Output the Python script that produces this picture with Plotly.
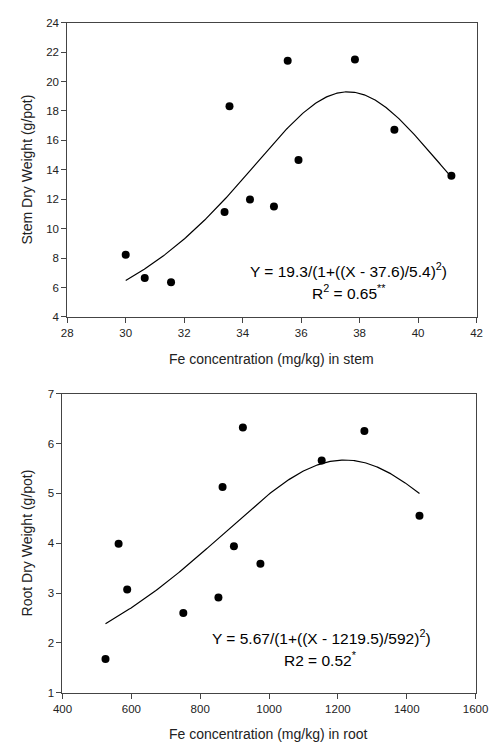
import numpy as np
import plotly.graph_objects as go

# ---- Data: stem panel ----
stem_fe = [30.0, 30.65, 31.55, 33.38, 33.55, 34.25, 35.07, 35.54, 35.91, 37.84, 39.19, 41.14]
stem_dw = [8.23, 6.65, 6.36, 11.14, 18.33, 11.98, 11.51, 21.41, 14.66, 21.50, 16.73, 13.59]
# fitted model shown on the chart: Y = a/(1+((X-x0)/b)^2)
stem_fit = dict(a=19.3, x0=37.6, b=5.4)
stem_xticks = [28, 30, 32, 34, 36, 38, 40, 42]
stem_yticks = [4, 6, 8, 10, 12, 14, 16, 18, 20, 22, 24]

# ---- Data: root panel ----
root_fe = [525, 563, 588, 751, 853, 865, 898, 924, 975, 1153, 1277, 1437]
root_dw = [1.68, 3.99, 3.07, 2.60, 2.91, 5.13, 3.94, 6.32, 3.59, 5.66, 6.25, 4.55]
root_fit = dict(a=5.67, x0=1219.5, b=592.0)
root_xticks = [400, 600, 800, 1000, 1200, 1400, 1600]
root_yticks = [1, 2, 3, 4, 5, 6, 7]

W, H = 501, 747
FONT = "Liberation Sans, Arial, sans-serif"


def fit_curve(xs, p):
    xx = np.linspace(min(xs), max(xs), 300)
    return xx, p["a"] / (1 + ((xx - p["x0"]) / p["b"]) ** 2)


fig = go.Figure()

# top panel
fig.add_trace(go.Scatter(x=stem_fe, y=stem_dw, mode="markers",
                         marker=dict(color="black", size=8), xaxis="x", yaxis="y",
                         showlegend=False))
cx, cy = fit_curve(stem_fe, stem_fit)
fig.add_trace(go.Scatter(x=cx, y=cy, mode="lines", line=dict(color="black", width=1.2),
                         xaxis="x", yaxis="y", showlegend=False))

# bottom panel
fig.add_trace(go.Scatter(x=root_fe, y=root_dw, mode="markers",
                         marker=dict(color="black", size=8), xaxis="x2", yaxis="y2",
                         showlegend=False))
cx2, cy2 = fit_curve(root_fe, root_fit)
fig.add_trace(go.Scatter(x=cx2, y=cy2, mode="lines", line=dict(color="black", width=1.2),
                         xaxis="x2", yaxis="y2", showlegend=False))


def px_x(p):
    return p / W


def px_y(p):
    return 1 - p / H


axis_common = dict(showgrid=False, zeroline=False, showline=True, mirror=True,
                   linecolor="#444", linewidth=1, ticks="outside", ticklen=5,
                   tickcolor="#444", tickwidth=1,
                   tickfont=dict(family=FONT, size=11.5, color="#222"))

fig.update_layout(
    width=W, height=H,
    margin=dict(l=0, r=0, t=0, b=0),
    paper_bgcolor="white", plot_bgcolor="white",
    xaxis=dict(domain=[px_x(60), px_x(489)], range=[28, 42], tickvals=stem_xticks,
               anchor="y", **axis_common),
    yaxis=dict(domain=[px_y(316), px_y(17)], range=[4, 24], tickvals=stem_yticks,
               anchor="x", **axis_common),
    xaxis2=dict(domain=[px_x(55), px_x(488)], range=[400, 1600], tickvals=root_xticks,
                anchor="y2", **axis_common),
    yaxis2=dict(domain=[px_y(698), px_y(394)], range=[1, 7], tickvals=root_yticks,
                anchor="x2", **axis_common),
)

ann_font = dict(family=FONT, size=14, color="#222")
eq_font = dict(family=FONT, size=15.5, color="black")
annotations = [
    dict(text="Fe concentration (mg/kg) in stem", x=px_x(274), y=px_y(359), font=ann_font),
    dict(text="Stem Dry Weight (g/pot)", x=px_x(18), y=px_y(166), textangle=-90, font=ann_font),
    dict(text="Fe concentration (mg/kg) in root", x=px_x(271), y=px_y(740), font=ann_font),
    dict(text="Root Dry Weight (g/pot)", x=px_x(18), y=px_y(546), textangle=-90, font=ann_font),
    dict(text="Y = 19.3/(1+((X - 37.6)/5.4)<sup>2</sup>)", x=px_x(355), y=px_y(268), font=eq_font),
    dict(text="R<sup>2</sup> = 0.65<sup>**</sup>", x=px_x(355), y=px_y(291), font=eq_font),
    dict(text="Y = 5.67/(1+((X - 1219.5)/592)<sup>2</sup>)", x=px_x(327), y=px_y(641), font=eq_font),
    dict(text="R2 = 0.52<sup>*</sup>", x=px_x(325), y=px_y(664), font=eq_font),
]
for a in annotations:
    a.update(xref="paper", yref="paper", showarrow=False, xanchor="center", yanchor="middle")
fig.update_layout(annotations=annotations)

fig.write_html("out.html")
